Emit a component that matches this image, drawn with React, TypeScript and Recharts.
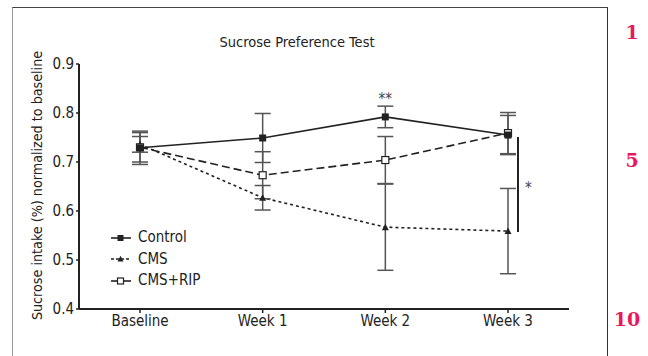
import {
  LineChart, Line, XAxis, YAxis, ErrorBar, ReferenceLine, ReferenceDot, Label,
} from 'recharts'

/* ---------- data ---------- */

const categories = ['Baseline', 'Week 1', 'Week 2', 'Week 3']
const control = [0.729, 0.749, 0.792, 0.755]
const controlErr = [0.034, 0.05, 0.022, 0.04]
const cms = [0.736, 0.627, 0.567, 0.559]
const cmsErr = [0.016, 0.025, 0.088, 0.087]
const rip = [0.73, 0.673, 0.704, 0.759]
const ripErr = [0.03, 0.048, 0.048, 0.042]
const yTicks = [0.4, 0.5, 0.6, 0.7, 0.8, 0.9]

const chartData = categories.map((name, i) => ({
  name,
  control: control[i],
  controlErr: controlErr[i],
  cms: cms[i],
  cmsErr: cmsErr[i],
  rip: rip[i],
  ripErr: ripErr[i],
}))

/* ---------- style ---------- */

const FONT = '"DejaVu Sans Condensed", "DejaVu Sans", sans-serif'
const INK = '#222'
const ERR = '#555'

/* ---------- markers ---------- */

// eslint-disable-next-line @typescript-eslint/no-explicit-any
const SquareDot = (props: any) => {
  const { cx, cy, index } = props
  return <rect key={`sq-${index}`} x={cx - 3.5} y={cy - 3.5} width={7} height={7} fill={INK} />
}

// eslint-disable-next-line @typescript-eslint/no-explicit-any
const TriDot = (props: any) => {
  const { cx, cy, index } = props
  return <path key={`tr-${index}`} d={`M${cx},${cy - 3.5} L${cx + 3.5},${cy + 3} L${cx - 3.5},${cy + 3} Z`} fill={INK} />
}

// eslint-disable-next-line @typescript-eslint/no-explicit-any
const OpenDot = (props: any) => {
  const { cx, cy, index } = props
  return <rect key={`op-${index}`} x={cx - 3.5} y={cy - 3.5} width={7} height={7} fill="#fff" stroke={INK} strokeWidth={1.2} />
}

/* ---------- legend ---------- */

const legendRows = [
  { label: 'Control', dash: undefined, kind: 'square' },
  { label: 'CMS', dash: '3 2', kind: 'tri' },
  { label: 'CMS+RIP', dash: undefined, kind: 'open' },
]

function ChartLegend() {
  return (
    <div style={{ fontFamily: FONT, fontStretch: 'condensed', fontSize: 15, color: INK, lineHeight: '21.5px' }}>
      {legendRows.map((r) => (
        <div key={r.label} style={{ display: 'flex', alignItems: 'center' }}>
          <svg width={26} height={12} style={{ marginRight: 2 }}>
            <line x1={1} y1={6} x2={21} y2={6} stroke={INK} strokeWidth={1.6} strokeDasharray={r.dash} />
            {r.kind === 'square' && <rect x={7.5} y={3} width={6} height={6} fill={INK} />}
            {r.kind === 'tri' && <path d="M10.5,2.8 L13.5,8.5 L7.5,8.5 Z" fill={INK} />}
            {r.kind === 'open' && <rect x={7.5} y={3} width={6} height={6} fill="#fff" stroke={INK} strokeWidth={1.2} />}
          </svg>
          <span>{r.label}</span>
        </div>
      ))}
    </div>
  )
}

/* ---------- component ---------- */

export default function App() {
  return (
    <div style={{ position: 'fixed', left: 0, top: 0, width: 648, height: 356, background: '#fff', overflow: 'hidden' }}>
      <style>{'svg text { font-stretch: condensed; }'}</style>

      {/* figure frame */}
      <div
        style={{
          position: 'absolute', left: 12, top: 7, width: 594, height: 360,
          borderTop: '1px solid #444', borderRight: '1px solid #333', borderLeft: '1px solid #999',
        }}
      />

      {/* page line numbers */}
      {[
        { n: '1', x: 632, y: 32 },
        { n: '5', x: 632, y: 160 },
        { n: '10', x: 627, y: 319 },
      ].map((p) => (
        <div
          key={p.n}
          style={{
            position: 'absolute', left: p.x, top: p.y, transform: 'translate(-50%, -50%)',
            fontFamily: '"DejaVu Serif", "Liberation Serif", serif', fontWeight: 'bold', fontSize: 19, color: '#e8185f',
          }}
        >
          {p.n}
        </div>
      ))}

      <div
        style={{
          position: 'absolute', left: 297, top: 42, transform: 'translate(-50%, -50%)',
          fontFamily: FONT, fontStretch: 'condensed', fontSize: 14.5, color: INK, whiteSpace: 'nowrap',
        }}
      >
        Sucrose Preference Test
      </div>

      <div style={{ position: 'absolute', left: 0, top: 0 }}>
        <LineChart width={648} height={356} data={chartData} margin={{ top: 64, right: 79, left: 49, bottom: 17 }}>
          <XAxis
            dataKey="name"
            padding={{ left: 61, right: 61 }}
            tick={{ fontSize: 15, fill: INK, fontFamily: FONT }}
            tickLine={{ stroke: INK, strokeWidth: 1.5 }}
            tickSize={4}
            axisLine={{ stroke: INK, strokeWidth: 2 }}
            height={30}
          />
          <YAxis
            domain={[0.4, 0.9]}
            ticks={yTicks}
            tickFormatter={(v: number) => v.toFixed(1)}
            tick={{ fontSize: 15, fill: INK, fontFamily: FONT }}
            tickLine={{ stroke: INK, strokeWidth: 1.5 }}
            tickSize={3}
            axisLine={{ stroke: INK, strokeWidth: 2 }}
            width={30}
          >
            <Label
              // eslint-disable-next-line @typescript-eslint/no-explicit-any
              content={(props: any) => {
                const vb = props.viewBox
                const x = vb.x - 12
                const y = vb.y + vb.height / 2
                return (
                  <text
                    x={x}
                    y={y - 1}
                    transform={`rotate(-90, ${x}, ${y - 1})`}
                    textAnchor="middle"
                    dominantBaseline="central"
                    fontSize={14.2}
                    fontFamily={FONT}
                    fill={INK}
                  >
                    Sucrose intake (%) normalized to baseline
                  </text>
                )
              }}
            />
          </YAxis>

          <Line dataKey="cms" stroke={INK} strokeWidth={1.6} strokeDasharray="3 3" dot={TriDot} isAnimationActive={false}>
            <ErrorBar dataKey="cmsErr" width={8} stroke={ERR} strokeWidth={1.5} />
          </Line>
          <Line dataKey="rip" stroke={INK} strokeWidth={1.6} strokeDasharray="8 4" dot={OpenDot} isAnimationActive={false}>
            <ErrorBar dataKey="ripErr" width={8} stroke={ERR} strokeWidth={1.5} />
          </Line>
          <Line dataKey="control" stroke={INK} strokeWidth={1.6} dot={SquareDot} isAnimationActive={false}>
            <ErrorBar dataKey="controlErr" width={8} stroke={ERR} strokeWidth={1.5} />
          </Line>

          {/* significance markers */}
          <ReferenceDot
            x="Week 2"
            y={0.814}
            r={0}
            stroke="none"
            label={{ value: '**', position: 'top', fontSize: 15, fill: '#444', fontFamily: FONT, offset: 2 }}
          />
          <ReferenceLine
            segment={[{ x: 'Week 3', y: 0.751 }, { x: 'Week 3', y: 0.557 }]}
            // eslint-disable-next-line @typescript-eslint/no-explicit-any
            shape={(props: any) => {
              const { x1, y1, y2 } = props
              return (
                <g>
                  <line x1={x1 + 10} y1={y1} x2={x1 + 10} y2={y2} stroke={INK} strokeWidth={2} />
                  <text x={x1 + 17} y={(y1 + y2) / 2 + 8} fontSize={15} fill="#444" fontFamily={FONT}>*</text>
                </g>
              )
            }}
          />
        </LineChart>
      </div>

      <div style={{ position: 'absolute', left: 110, top: 227 }}>
        <ChartLegend />
      </div>
    </div>
  )
}
